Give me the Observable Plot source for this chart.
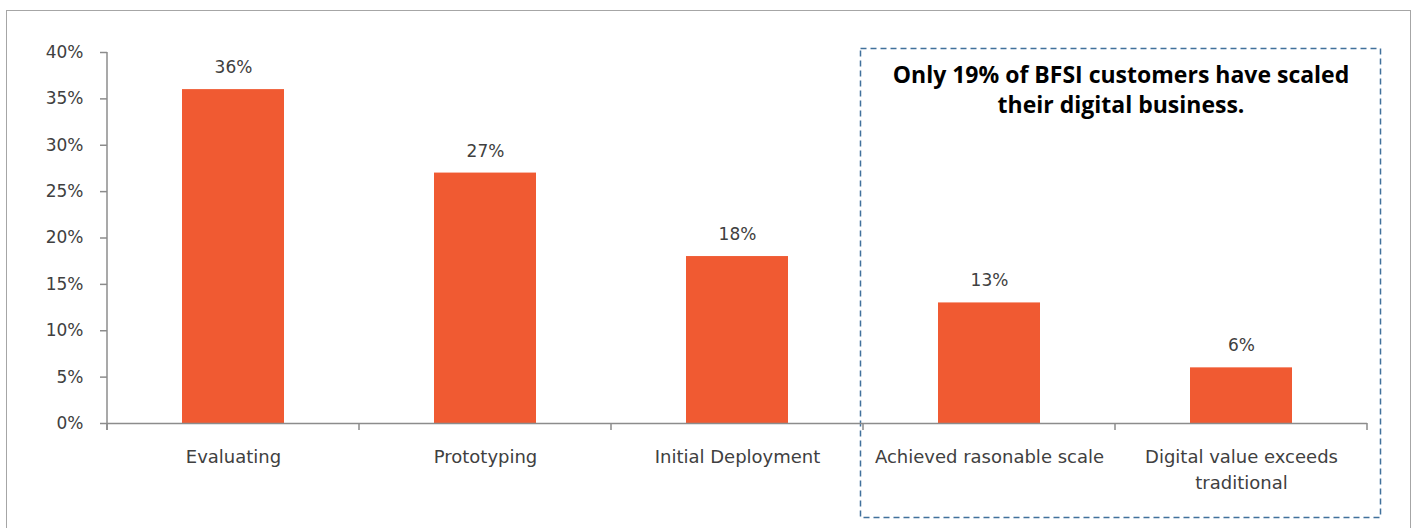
<!DOCTYPE html>
<html><head><meta charset="utf-8">
<script src="https://cdn.jsdelivr.net/npm/d3@7"></script>
<script src="https://cdn.jsdelivr.net/npm/@observablehq/plot@0.6"></script>
<style>
html,body{margin:0;padding:0;background:#fff;}
#chart{position:relative;width:1413px;height:528px;overflow:hidden;}
</style>
</head><body><div id="chart"></div>
<script>
const stages = ["Evaluating", "Prototyping", "Initial Deployment", "Achieved rasonable scale", "Digital value exceeds traditional"];
const shares = [0.36, 0.27, 0.18, 0.13, 0.06];
const yTicks = [0, 0.05, 0.10, 0.15, 0.20, 0.25, 0.30, 0.35, 0.40];
const callout = ["Only 19% of BFSI customers have scaled", "their digital business."];
const data = stages.map((s, i) => ({stage: s, share: shares[i]}));

const FONT = "'DejaVu Sans', sans-serif";
const BOLDFONT = "'Open Sans', sans-serif";
const GREY = "#404040";
const AXIS = "#8c8c8c";

const boxMark = (index, scales, values, dim) => {
  const ns = "http://www.w3.org/2000/svg";
  const g = document.createElementNS(ns, "g");
  // outer frame
  const f = document.createElementNS(ns, "rect");
  f.setAttribute("x", 6.5); f.setAttribute("y", 10.5);
  f.setAttribute("width", 1404); f.setAttribute("height", 540);
  f.setAttribute("fill", "none"); f.setAttribute("stroke", "#a6a6a6");
  g.appendChild(f);
  // dashed callout box around last two categories
  const x = scales.x, bw = x.bandwidth(), step = x.step();
  const left = x(stages[3]) - (step - bw) / 2 + 2;
  const right = x(stages[4]) + bw + (step - bw) / 2 + 14;
  const r = document.createElementNS(ns, "rect");
  r.setAttribute("x", left - 4.5); r.setAttribute("y", 48.5);
  r.setAttribute("width", right - left + 4); r.setAttribute("height", 469);
  r.setAttribute("fill", "none"); r.setAttribute("stroke", "#41719c");
  r.setAttribute("stroke-width", 1.5); r.setAttribute("stroke-dasharray", "6,4");
  g.appendChild(r);
  const cx = (left - 4 + right) / 2;
  callout.forEach((line, i) => {
    const t = document.createElementNS(ns, "text");
    t.setAttribute("x", cx); t.setAttribute("y", 83 + i * 30);
    t.setAttribute("text-anchor", "middle");
    t.setAttribute("font-family", BOLDFONT);
    t.setAttribute("font-weight", "bold");
    t.setAttribute("font-size", 23);
    t.setAttribute("fill", "#000");
    t.textContent = line;
    g.appendChild(t);
  });
  // x-axis line with ticks at category boundaries
  const x0 = x(stages[0]) - (step - bw) / 2, x1 = x(stages[4]) + bw + (step - bw) / 2;
  const y0 = scales.y(0);
  const axis = document.createElementNS(ns, "path");
  let d = `M${x0},${y0 + 0.5}H${x1}`;
  for (let i = 0; i <= stages.length; i++) {
    const xx = x0 + i * step;
    d += `M${xx},${y0}V${y0 + 7}`;
  }
  axis.setAttribute("d", d);
  axis.setAttribute("stroke", AXIS); axis.setAttribute("stroke-width", 1.5); axis.setAttribute("fill", "none");
  g.appendChild(axis);
  // y-axis line
  const ya = document.createElementNS(ns, "path");
  ya.setAttribute("d", `M${x0},${scales.y(0.40)}V${y0 + 7}`);
  ya.setAttribute("stroke", AXIS); ya.setAttribute("stroke-width", 1.5); ya.setAttribute("fill", "none");
  g.appendChild(ya);
  return g;
};

const chart = Plot.plot({
  width: 1413,
  height: 528,
  marginLeft: 107,
  marginRight: 46,
  marginTop: 52,
  marginBottom: 105,
  style: {fontFamily: FONT, fontSize: "17px", color: GREY, background: "transparent"},
  x: {domain: stages, paddingInner: 0.595, paddingOuter: 0.2975, label: null},
  y: {domain: [0, 0.40], label: null},
  marks: [
    Plot.barY(data, {x: "stage", y: "share", fill: "#f05a32"}),
    Plot.text(data, {x: "stage", y: "share", text: d => Math.round(d.share * 100) + "%", dy: -22, fill: GREY, fontSize: 17}),
    Plot.axisY({ticks: yTicks, tickFormat: d => Math.round(d * 100) + "%", tickSize: 7, tickPadding: 17, stroke: AXIS, strokeWidth: 1.5, fill: GREY, fontSize: 17, label: null}),
    Plot.axisX({tickSize: 0, tickPadding: 22, lineWidth: 13, lineHeight: 1.4, fill: GREY, fontSize: 18, label: null}),
    boxMark
  ]
});
document.getElementById("chart").appendChild(chart);
</script>
</body></html>
